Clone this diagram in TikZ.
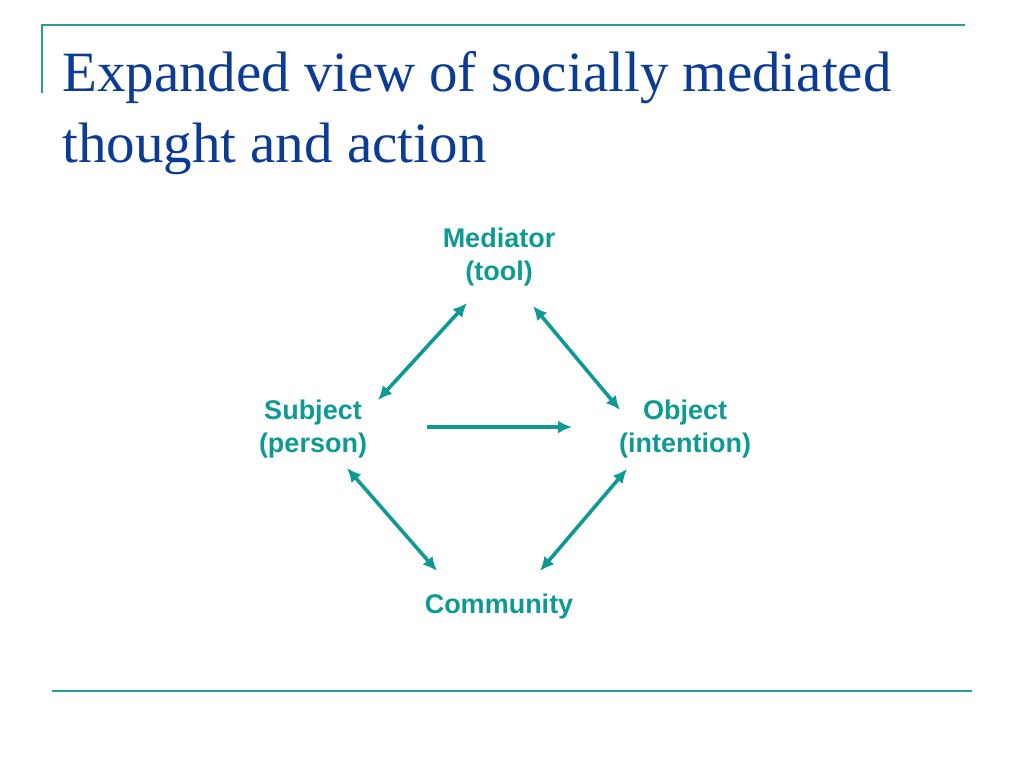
\documentclass[tikz,border=0pt]{standalone}
\usepackage{fontspec}
\setmainfont{Liberation Serif}
\newfontfamily\lblfont{Liberation Sans}
\usetikzlibrary{calc,arrows.meta}
\definecolor{rulecol}{HTML}{2A9C9C}
\definecolor{titlecol}{HTML}{0B3B93}
\definecolor{tealtext}{HTML}{0E9A94}
\tikzset{
  titletext/.style={anchor=base west,inner sep=0pt,text=titlecol,font=\fontsize{57}{68}\selectfont},
  lbl/.style={align=center,inner sep=0pt,text=tealtext,font=\lblfont\bfseries\fontsize{27}{33}\selectfont},
  rulel/.style={draw=rulecol,line width=2.5pt},
  conn/.style={draw=tealtext,line width=3.6pt,{Latex[length=14pt,width=13pt]}-{Latex[length=14pt,width=13pt]}},
  connone/.style={draw=tealtext,line width=3.6pt,-{Latex[length=14pt,width=13pt]}}
}
\begin{document}
\begin{tikzpicture}[x=1pt,y=-1pt]
\useasboundingbox (0,0) rectangle (1024,768);
% rules
\coordinate (r1) at (42,25);
\coordinate (r2) at (965,25);
\coordinate (r3) at (42,93);
\draw[rulel] (r3) -- (r1) -- (r2);
\coordinate (b1) at (52,691);
\coordinate (b2) at (972,691);
\draw[rulel] (b1) -- (b2);
% title
\node[titletext] (t1) at (62,91) {Expanded view of socially mediated};
\node[titletext] (t2) at (62,162) {thought and action};
% nodes
\node[lbl] (med) at (499,257) {Mediator\\(tool)};
\node[lbl] (sub) at (313,429) {Subject\\(person)};
\node[lbl] (obj) at (685,429) {Object\\(intention)};
\node[lbl] (com) at (499,607) {Community};
% connectors
\draw[conn] ($(med)+(-32,46)$) -- ($(sub)+(65,-29)$);
\draw[conn] ($(med)+(34,49)$) -- ($(obj)+(-65,-19)$);
\draw[connone] ($(sub)+(114,-2)$) -- ($(obj)+(-113,-2)$);
\draw[conn] ($(sub)+(34,39)$) -- ($(com)+(-62,-36)$);
\draw[conn] ($(obj)+(-58,40)$) -- ($(com)+(41,-36)$);
\end{tikzpicture}
\end{document}
